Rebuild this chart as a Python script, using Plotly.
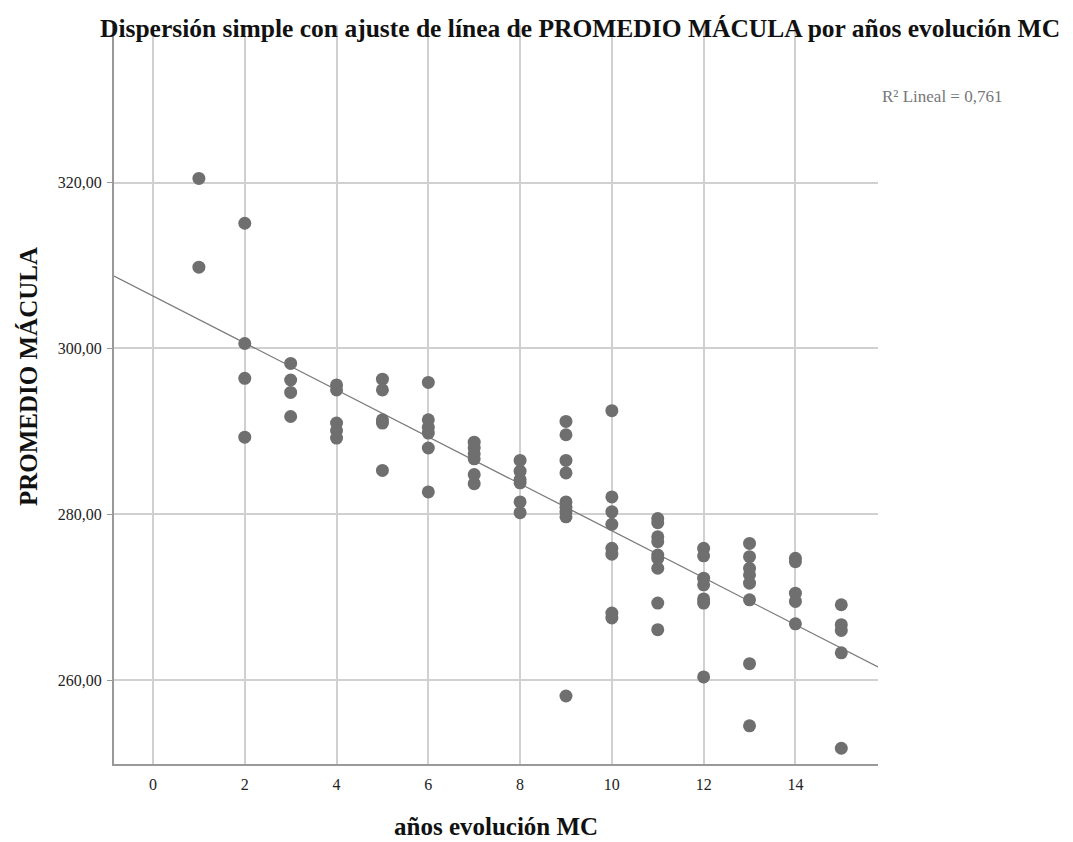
import numpy as np
import plotly.graph_objects as go

# Data (años evolución MC vs PROMEDIO MÁCULA)
col_years = [1, 2, 3, 4, 5, 6, 7, 8, 9, 10, 11, 12, 13, 14, 15]
col_values = [
    [320.5, 309.8],
    [315.1, 300.6, 296.4, 289.3],
    [298.2, 296.2, 294.7, 291.8],
    [295.6, 295.0, 291.0, 290.1, 289.2],
    [296.3, 295.0, 291.4, 291.0, 285.3],
    [295.9, 291.4, 290.5, 289.8, 288.0, 282.7],
    [288.7, 288.0, 287.3, 286.7, 284.8, 283.7],
    [286.5, 285.2, 284.2, 283.8, 281.5, 280.2],
    [291.2, 289.6, 286.5, 285.0, 281.5, 280.9, 280.3, 279.7, 258.1],
    [292.5, 282.1, 280.3, 278.8, 275.9, 275.2, 268.1, 267.5],
    [279.5, 279.0, 277.3, 276.7, 275.1, 274.7, 273.5, 269.3, 266.1],
    [275.9, 275.0, 272.3, 271.5, 269.8, 269.3, 260.4],
    [276.5, 274.9, 273.5, 272.7, 271.7, 269.7, 262.0, 254.5],
    [274.7, 274.3, 270.5, 269.5, 266.8],
    [269.1, 266.7, 266.0, 263.3, 251.8],
]
x_range = [-0.85, 15.8]
y_range = [249.9, 339.0]
x_ticks = [0, 2, 4, 6, 8, 10, 12, 14]
y_ticks = [260, 280, 300, 320]
r2_label = "R² Lineal = 0,761"
title_text = "Dispersión simple con ajuste de línea de PROMEDIO MÁCULA por años evolución MC"
x_title = "años evolución MC"
y_title = "PROMEDIO MÁCULA"

xs = np.array([yr for yr, vals in zip(col_years, col_values) for _ in vals], dtype=float)
ys = np.array([v for vals in col_values for v in vals], dtype=float)
slope, intercept = np.polyfit(xs, ys, 1)
line_x = np.array(x_range)
line_y = intercept + slope * line_x

SERIF = "Liberation Serif, Times New Roman, serif"

fig = go.Figure()
fig.add_trace(go.Scatter(
    x=line_x, y=line_y, mode="lines",
    line=dict(color="#7a7a7a", width=1.3),
    hoverinfo="skip", showlegend=False,
))
fig.add_trace(go.Scatter(
    x=xs, y=ys, mode="markers",
    marker=dict(color="#6f6f6f", size=13, line=dict(width=0)),
    showlegend=False,
))

fig.update_layout(
    width=1073, height=842,
    margin=dict(l=114, r=195, t=25, b=78),
    paper_bgcolor="white", plot_bgcolor="white",
    separators=",.",
    font=dict(family=SERIF, color="#222222", size=16),
    xaxis=dict(
        range=x_range, tickvals=x_ticks, automargin=False,
        showgrid=True, gridcolor="#d0d0d0", gridwidth=1.5,
        showline=True, linecolor="#999999", linewidth=2,
        zeroline=False, ticks="", ticklabelstandoff=5,
        tickfont=dict(family=SERIF, size=16, color="#222222"),
    ),
    yaxis=dict(
        range=y_range, tickvals=y_ticks, tickformat=".2f", automargin=False,
        showgrid=True, gridcolor="#d0d0d0", gridwidth=1.5,
        showline=True, linecolor="#999999", linewidth=2,
        zeroline=False, ticks="outside", ticklen=5, tickcolor="#999999",
        ticklabelstandoff=2,
        tickfont=dict(family=SERIF, size=16, color="#222222"),
    ),
    annotations=[
        dict(text="<b>" + title_text + "</b>", xref="paper", yref="paper",
             x=580, y=28, xanchor="center", yanchor="middle", showarrow=False,
             font=dict(family=SERIF, size=25.5, color="#111111")),
        dict(text="<b>" + x_title + "</b>", xref="paper", yref="paper",
             x=496, y=826, xanchor="center", yanchor="middle", showarrow=False,
             font=dict(family=SERIF, size=25, color="#111111")),
        dict(text="<b>" + y_title + "</b>", xref="paper", yref="paper",
             x=28, y=377, xanchor="center", yanchor="middle", showarrow=False,
             textangle=-90,
             font=dict(family=SERIF, size=25, color="#111111")),
        dict(text=r2_label, xref="paper", yref="paper",
             x=880, y=96, xanchor="left", yanchor="middle", showarrow=False,
             font=dict(family=SERIF, size=17, color="#777777")),
    ],
)

# convert pixel-based annotation anchors into paper fractions of the plot area
pl, pr, pt, pb = 114, 1073 - 195, 25, 842 - 78
for a in fig.layout.annotations:
    a.x = (a.x - pl) / (pr - pl)
    a.y = (pb - a.y) / (pb - pt)

fig.write_html("out.html")
